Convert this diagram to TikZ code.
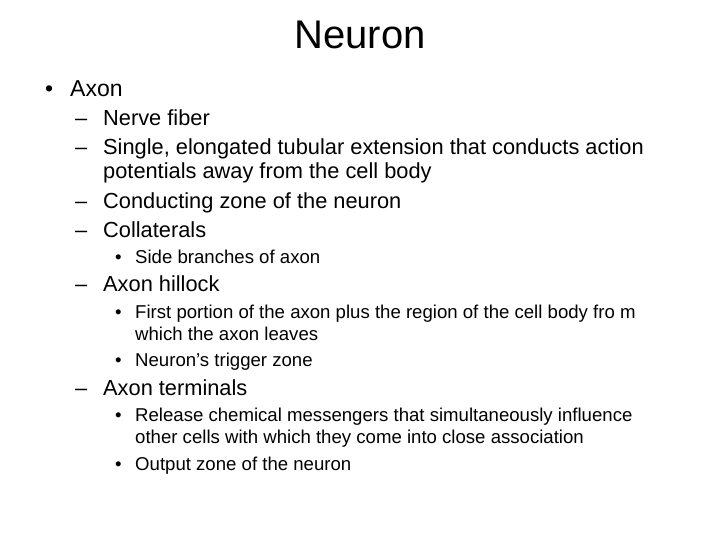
\documentclass[tikz,border=0pt]{standalone}
\usepackage{fontspec}
\setmainfont{Liberation Sans}
\begin{document}
\begin{tikzpicture}[x=1pt,y=-1pt,
  t/.style={anchor=base west,inner sep=0pt},
  ti/.style={anchor=base,inner sep=0pt,font=\fontsize{40}{44}\selectfont},
  la/.style={t,font=\fontsize{23}{26}\selectfont},
  lb/.style={t,font=\fontsize{21.8}{25}\selectfont},
  lc/.style={t,font=\fontsize{18.6}{21}\selectfont}]
\useasboundingbox (0,0) rectangle (720,540);
\node[ti] (title) at (360,49) {Neuron};
\node[la] (b1) at (45,97) {•};
\node[la] (t1) at (70,97) {Axon};
\node[lb] (d1) at (75,126) {–}; \node[lb] (a1) at (103,126) {Nerve fiber};
\node[lb] (d2) at (75,155) {–}; \node[lb] (a2) at (103,155) {Single, elongated tubular extension that conducts action};
\node[lb] (a2b) at (103,179) {potentials away from the cell body};
\node[lb] (d3) at (75,208) {–}; \node[lb] (a3) at (103,208) {Conducting zone of the neuron};
\node[lb] (d4) at (75,237) {–}; \node[lb] (a4) at (103,237) {Collaterals};
\node[lc] (e1) at (115,263) {•}; \node[lc] (c1) at (135,263) {Side branches of axon};
\node[lb] (d5) at (75,291) {–}; \node[lb] (a5) at (103,291) {Axon hillock};
\node[lc] (e2) at (115,318) {•}; \node[lc] (c2) at (135,318) {First portion of the axon plus the region of the cell body fro m};
\node[lc] (c2b) at (135,340) {which the axon leaves};
\node[lc] (e3) at (115,366) {•}; \node[lc] (c3) at (135,366) {Neuron’s trigger zone};
\node[lb] (d6) at (75,395) {–}; \node[lb] (a6) at (103,395) {Axon terminals};
\node[lc] (e4) at (115,421) {•}; \node[lc] (c4) at (135,421) {Release chemical messengers that simultaneously influence};
\node[lc] (c4b) at (135,443) {other cells with which they come into close association};
\node[lc] (e5) at (115,470) {•}; \node[lc] (c5) at (135,470) {Output zone of the neuron};
\end{tikzpicture}
\end{document}
